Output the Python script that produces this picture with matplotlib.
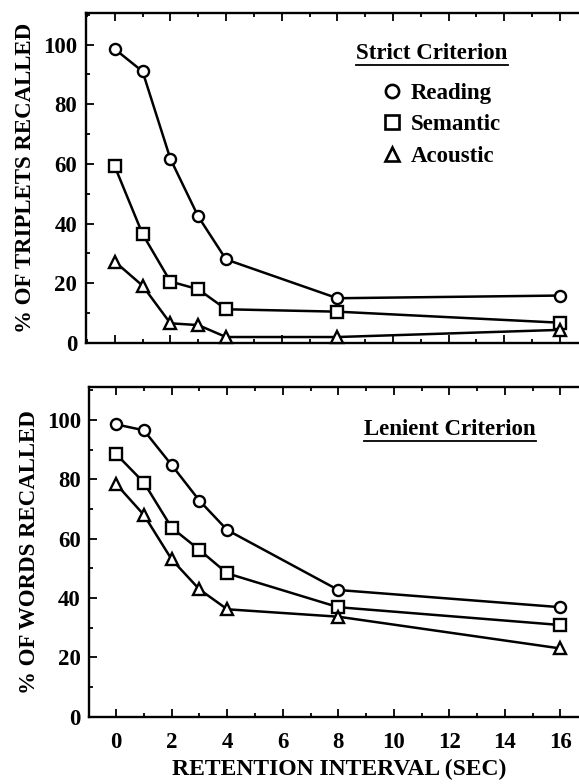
import matplotlib
matplotlib.use("Agg")
import matplotlib.pyplot as plt
from matplotlib.lines import Line2D
from matplotlib.ticker import MultipleLocator

plt.rcParams["font.family"] = ["Liberation Serif", "DejaVu Serif"]
plt.rcParams["font.weight"] = "bold"
plt.rcParams["axes.labelweight"] = "bold"

interval = [0, 1, 2, 3, 4, 8, 16]

# strict criterion: % of triplets recalled
strict_reading = [98.5, 91, 61.7, 42.4, 28, 15, 15.9]
strict_semantic = [59.2, 36.5, 20.6, 18, 11.3, 10.5, 6.8]
strict_acoustic = [27.3, 19.2, 6.6, 6, 2, 2, 4.4]

# lenient criterion: % of words recalled
lenient_reading = [98.5, 96.5, 84.8, 72.8, 62.9, 42.7, 36.9]
lenient_semantic = [88.5, 78.9, 63.7, 56.2, 48.3, 36.9, 30.9]
lenient_acoustic = [78.4, 68, 53, 42.9, 36.2, 33.7, 23]

markers = {"Reading": "o", "Semantic": "s", "Acoustic": "^"}

fig = plt.figure(figsize=(5.79, 7.84), dpi=100)
ax1 = fig.add_axes([0.1477, 0.5625, 0.8675, 0.421])
ax2 = fig.add_axes([0.1540, 0.0858, 0.8620, 0.421])


def draw(ax, series, ymax):
    for name, ys in series:
        ax.plot(interval, ys, color="black", lw=1.8, marker=markers[name],
                ms=8, mfc="white", mec="black", mew=1.7, clip_on=False, zorder=3)
    ax.set_ylim(0, ymax)
    ax.xaxis.set_major_locator(MultipleLocator(2))
    ax.xaxis.set_minor_locator(MultipleLocator(1))
    ax.yaxis.set_major_locator(MultipleLocator(20))
    ax.yaxis.set_minor_locator(MultipleLocator(10))
    ax.tick_params(which="both", direction="in", top=True, right=False, width=1.3)
    ax.tick_params(which="major", length=6, labelsize=16.5, pad=6)
    ax.tick_params(axis="x", which="major", pad=11)
    ax.tick_params(which="minor", length=3)
    ax.spines["right"].set_visible(False)
    for s in ["left", "bottom", "top"]:
        ax.spines[s].set_linewidth(1.7)


def underlined(ax, x, y, s):
    t = ax.text(x, y, s, transform=ax.transAxes, fontsize=16.5, ha="center",
                va="baseline", fontweight="bold")
    fig.canvas.draw()
    bb = t.get_window_extent().transformed(ax.transAxes.inverted())
    ax.plot([bb.x0, bb.x1], [bb.y0 - 0.003, bb.y0 - 0.003], color="black",
            lw=1.3, transform=ax.transAxes, clip_on=False)


draw(ax1, [("Reading", strict_reading), ("Semantic", strict_semantic),
           ("Acoustic", strict_acoustic)], 110.6)
ax1.set_xlim(-1.05, 17.0)
ax1.tick_params(axis="x", labelbottom=False)
ax1.set_ylabel("% OF TRIPLETS RECALLED", fontsize=16.5, labelpad=5)

draw(ax2, [("Reading", lenient_reading), ("Semantic", lenient_semantic),
           ("Acoustic", lenient_acoustic)], 111.2)
ax2.set_xlim(-0.97, 17.0)
ax2.set_ylabel("% OF WORDS RECALLED", fontsize=16.5, labelpad=5)
ax2.set_xlabel("RETENTION INTERVAL (SEC)", fontsize=17, labelpad=4)

underlined(ax1, 0.69, 0.86, "Strict Criterion")
underlined(ax2, 0.723, 0.855, "Lenient Criterion")

handles = [Line2D([], [], ls="none", marker=markers[n], ms=9.5, mfc="white",
                  mec="black", mew=1.9, label=n) for n in markers]
ax1.legend(handles=handles, loc="upper left", bbox_to_anchor=(0.55, 0.85),
           frameon=False, handlelength=0.8, handletextpad=0.45, labelspacing=0.45,
           prop={"size": 16.5, "weight": "bold"})

fig.savefig("out.png", dpi=100)
